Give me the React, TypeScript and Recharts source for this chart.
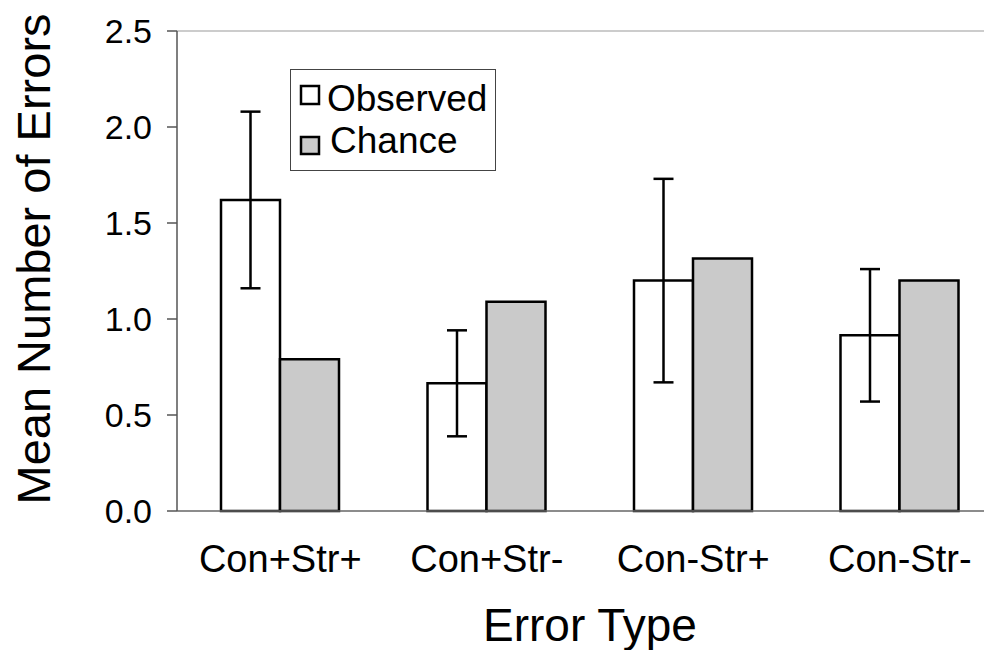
import React from 'react';
import { BarChart, Bar, XAxis, YAxis, ErrorBar, Legend, ReferenceLine, Label } from 'recharts';

const categories = ['Con+Str+', 'Con+Str-', 'Con-Str+', 'Con-Str-'];
const seriesNames = ['Observed', 'Chance'];
const observed = [1.62, 0.665, 1.20, 0.915];
const observedErr = [0.46, 0.276, 0.53, 0.345];
const chance = [0.79, 1.09, 1.315, 1.20];
const yTicks = [0, 0.5, 1.0, 1.5, 2.0, 2.5];

const data = categories.map((c, i) => ({
  name: c,
  Observed: observed[i],
  err: observedErr[i],
  Chance: chance[i],
}));

const FONT = '"Liberation Sans", Arial, Helvetica, sans-serif';

const LegendBox = (props: any) => {
  const payload = [...(props.payload || [])].sort(
    (a: any, b: any) => seriesNames.indexOf(a.value) - seriesNames.indexOf(b.value)
  );
  const rows = [
    { sq: 17, sh: 18, tx: 37, ty: 42 },
    { sq: 68, sh: 17, tx: 40, ty: 84 },
  ];
  return (
    <svg width={206} height={102} style={{ display: 'block', overflow: 'visible' }}>
      <rect x={0.5} y={0.5} width={205} height={101} fill="#fff" stroke="#444" strokeWidth={1} />
      {payload.map((p: any, i: number) => {
        const r = rows[i] || rows[0];
        const fill = p.payload && p.payload.fill ? p.payload.fill : p.color;
        return (
          <g key={p.value}>
            <rect x={11} y={r.sq} width={18} height={r.sh} fill={fill} stroke="#000" strokeWidth={2.5} />
            <text x={r.tx} y={r.ty} fontSize={37} fontFamily={FONT} fill="#000">{p.value}</text>
          </g>
        );
      })}
    </svg>
  );
};

const YLabel = (props: any) => {
  const vb = props.viewBox || { x: 0, y: 23, width: 169, height: 480 };
  const cx = vb.x + 42;
  const cy = vb.y + vb.height / 2 - 12;
  return (
    <text x={cx} y={cy} transform={`rotate(-90 ${cx} ${cy})`} textAnchor="middle" fontSize={47} fontFamily={FONT} fill="#000">
      Mean Number of Errors
    </text>
  );
};

export default function App() {
  return (
    <div style={{ width: 984, height: 642, overflow: 'hidden', position: 'relative', background: '#fff' }}>
      <BarChart
        width={1000}
        height={642}
        data={data}
        margin={{ top: 23, right: 5, bottom: 0, left: 0 }}
        barGap={0}
        barSize={59}
      >
        <ReferenceLine y={2.5} stroke="#cccccc" strokeWidth={2} />
        <XAxis
          dataKey="name"
          height={139}
          tickLine={false}
          tickSize={0}
          tickMargin={34}
          axisLine={{ stroke: '#666', strokeWidth: 1.5 }}
          tick={{ fontSize: 38, fontFamily: FONT, fill: '#000' }}
        >
          <Label value="Error Type" position="insideBottom" offset={9} fontSize={46} fontFamily={FONT} fill="#000" />
        </XAxis>
        <YAxis
          width={169}
          domain={[0, 2.5]}
          ticks={yTicks}
          interval={0}
          tickFormatter={(v: number) => v.toFixed(1)}
          tickSize={10}
          tickMargin={15}
          axisLine={{ stroke: '#555', strokeWidth: 1.5 }}
          tickLine={{ stroke: '#555', strokeWidth: 1.5 }}
          tick={{ fontSize: 34, fontFamily: FONT, fill: '#000' }}
          label={{ content: YLabel }}
        />
        <Legend
          layout="horizontal"
          verticalAlign="middle"
          align="center"
          content={LegendBox}
          wrapperStyle={{ left: 282, top: 61, width: 206, height: 102 }}
        />
        <Bar dataKey="Observed" fill="#ffffff" stroke="#000" strokeWidth={2.5} isAnimationActive={false}>
          <ErrorBar dataKey="err" direction="y" width={10} stroke="#000" strokeWidth={2.5} />
        </Bar>
        <Bar dataKey="Chance" fill="#cacaca" stroke="#000" strokeWidth={2.5} isAnimationActive={false} />
      </BarChart>
    </div>
  );
}
